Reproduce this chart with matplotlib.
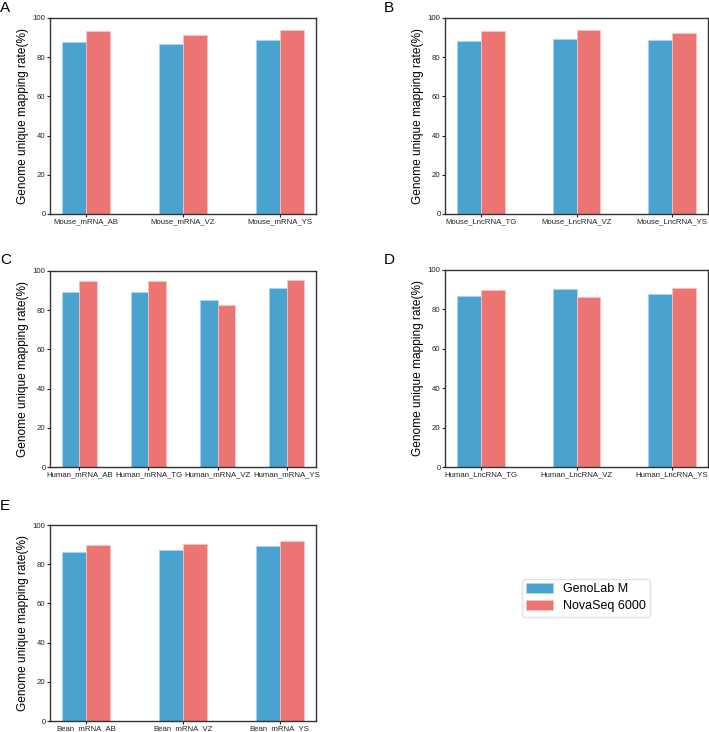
import numpy as np
import matplotlib.pyplot as plt

plt.rcParams['font.family'] = ['Liberation Sans', 'DejaVu Sans']

# Data
series = ["GenoLab M", "NovaSeq 6000"]
colors = ["#4AA3CE", "#EC7573"]
edges = ["#A9D6EE", "#F6C4C0"]

cats_a = ["Mouse_mRNA_AB", "Mouse_mRNA_VZ", "Mouse_mRNA_YS"]
geno_a = [87.9, 86.8, 89.0]
nova_a = [93.2, 91.2, 93.7]

cats_b = ["Mouse_LncRNA_TG", "Mouse_LncRNA_VZ", "Mouse_LncRNA_YS"]
geno_b = [88.5, 89.1, 88.6]
nova_b = [93.2, 93.7, 92.5]

cats_c = ["Human_mRNA_AB", "Human_mRNA_TG", "Human_mRNA_VZ", "Human_mRNA_YS"]
geno_c = [89.2, 89.5, 85.3, 91.4]
nova_c = [94.7, 94.9, 82.5, 95.6]

cats_d = ["Human_LncRNA_TG", "Human_LncRNA_VZ", "Human_LncRNA_YS"]
geno_d = [87.0, 90.5, 87.8]
nova_d = [89.8, 86.3, 90.7]

cats_e = ["Bean_mRNA_AB", "Bean_mRNA_VZ", "Bean_mRNA_YS"]
geno_e = [86.4, 87.3, 89.2]
nova_e = [89.8, 90.3, 92.0]

W, H = 709, 732
fig = plt.figure(figsize=(W / 100, H / 100), dpi=100)


def px_axes(left, top, right, bottom):
    return fig.add_axes([left / W, 1 - bottom / H, (right - left) / W, (bottom - top) / H])


def panel(ax, cats, geno, nova, letter, lx, ly):
    x = np.arange(len(cats))
    w = 0.25
    ax.bar(x - w / 2, geno, w, color=colors[0], edgecolor=edges[0], linewidth=0.6, label=series[0])
    ax.bar(x + w / 2, nova, w, color=colors[1], edgecolor=edges[1], linewidth=0.6, label=series[1])
    ax.set_ylim(0, 100)
    ax.set_yticks([0, 20, 40, 60, 80, 100])
    ax.set_xticks(x)
    ax.set_xticklabels(cats)
    ax.tick_params(labelsize=5.6, length=2, width=0.8, pad=1.2, colors='#222222')
    for s in ax.spines.values():
        s.set_linewidth(1.0)
        s.set_color('#333333')
    ax.set_ylabel("Genome unique mapping rate(%)", fontsize=8.6, labelpad=3)
    fig.text(lx / W, 1 - ly / H, letter, fontsize=11, va='top', ha='left')


ax_a = px_axes(50, 18, 316, 214)
panel(ax_a, cats_a, geno_a, nova_a, "A", 0, 1)
ax_b = px_axes(445, 18, 708, 214)
panel(ax_b, cats_b, geno_b, nova_b, "B", 384, 1)
ax_c = px_axes(50, 271, 316, 467)
panel(ax_c, cats_c, geno_c, nova_c, "C", 0, 253)
ax_d = px_axes(445, 270, 708, 467)
panel(ax_d, cats_d, geno_d, nova_d, "D", 384, 253)
ax_e = px_axes(50, 525, 316, 721)
panel(ax_e, cats_e, geno_e, nova_e, "E", 0, 499)

handles, labels = ax_e.get_legend_handles_labels()
fig.legend(handles, labels, loc='upper left', bbox_to_anchor=(522 / W, 1 - 579 / H),
           fontsize=9, handlelength=2.1, handleheight=0.75, handletextpad=0.8,
           frameon=True, edgecolor='#dddddd', fancybox=True,
           borderpad=0.35, borderaxespad=0, labelspacing=0.4)

fig.savefig("out.png", dpi=100)
